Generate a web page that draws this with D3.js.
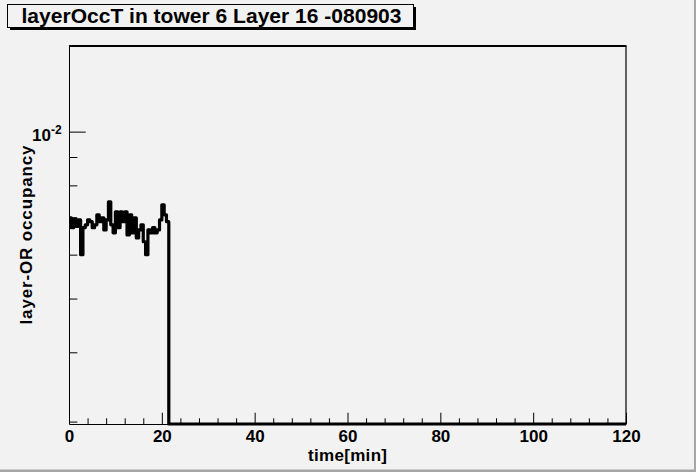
<!DOCTYPE html>
<html>
<head>
<meta charset="utf-8">
<script src="https://cdn.jsdelivr.net/npm/d3@7"></script>
<style>
  body { margin: 0; background: #f2f2f2; }
  svg { display: block; font-family: "Liberation Sans", Arial, sans-serif; font-weight: bold; }
</style>
</head>
<body>
<script>
// layer-OR occupancy per 0.5 min bin, from t = 0 up to 21.5 min (empty after that)
var binWidth = 0.5;
var occupancy = [
  6.99e-3, 6.71e-3, 6.96e-3, 6.75e-3, 6.93e-3, 6.00e-3, 6.71e-3, 6.79e-3,
  6.93e-3, 6.88e-3, 6.71e-3, 6.79e-3, 7.08e-3, 6.88e-3, 6.99e-3, 6.65e-3,
  6.93e-3, 7.47e-3, 6.79e-3, 6.57e-3, 7.17e-3, 6.71e-3, 7.17e-3, 6.88e-3,
  7.17e-3, 6.51e-3, 7.08e-3, 6.57e-3, 6.99e-3, 6.43e-3, 6.65e-3, 6.79e-3,
  6.33e-3, 6.00e-3, 6.65e-3, 6.57e-3, 6.71e-3, 6.57e-3, 6.65e-3, 6.93e-3,
  7.38e-3, 7.08e-3, 6.88e-3
];
var timeRange = [0, 120];
var occRange = [2.97e-3, 1.427e-2];
var xMajor = [0, 20, 40, 60, 80, 100, 120];
var xMinorStep = 4;
var yMajor = [1e-2];
var yMinor = [3e-3, 4e-3, 5e-3, 6e-3, 7e-3, 8e-3, 9e-3];

var W = 696, H = 472;
var frameL = 69, frameR = 626, frameT = 46, frameB = 424;

var svg = d3.select("body").append("svg")
    .attr("width", W)
    .attr("height", H);

svg.append("rect").attr("width", W).attr("height", H).attr("fill", "#f2f2f2");
// canvas bevel
svg.append("rect").attr("x", W - 2).attr("y", 0).attr("width", 2).attr("height", H).attr("fill", "#a6a6a6");
svg.append("rect").attr("x", 0).attr("y", H - 2.5).attr("width", W).attr("height", 2.5).attr("fill", "#a6a6a6");

var x = d3.scaleLinear().domain(timeRange).range([frameL, frameR]);
var y = d3.scaleLog().domain(occRange).range([frameB, frameT]).clamp(true);

// minor x ticks
var xMinor = d3.range(timeRange[0], timeRange[1] + 0.001, xMinorStep)
    .filter(function (d) { return xMajor.indexOf(d) < 0; });

var gxMinor = svg.append("g")
    .attr("transform", "translate(0," + frameB + ")")
    .call(d3.axisBottom(x).tickValues(xMinor).tickSize(-5.7).tickFormat(""));
gxMinor.select(".domain").remove();

var gx = svg.append("g")
    .attr("transform", "translate(0," + frameB + ")")
    .call(d3.axisBottom(x).tickValues(xMajor).tickSize(-11.3).tickPadding(5.5).tickSizeOuter(0));
gx.selectAll("text")
    .attr("font-size", 17)
    .attr("font-family", "Liberation Sans, Arial, sans-serif")
    .attr("font-weight", "bold")
    .attr("fill", "#000");

var gyMinor = svg.append("g")
    .attr("transform", "translate(" + frameL + ",0)")
    .call(d3.axisLeft(y).tickValues(yMinor).tickSize(-8.4).tickFormat(""));
gyMinor.select(".domain").remove();

var gy = svg.append("g")
    .attr("transform", "translate(" + frameL + ",0)")
    .call(d3.axisLeft(y).tickValues(yMajor).tickSize(-16.7).tickSizeOuter(0).tickFormat(""));

svg.selectAll(".tick line").attr("stroke", "#000");
svg.selectAll(".domain").attr("stroke", "#000");

// exponent label for 1e-2
yMajor.forEach(function (v) {
  var t = svg.append("text")
      .attr("x", 32)
      .attr("y", y(v) + 9.5)
      .style("font-size", "17px");
  t.append("tspan").text("10");
  t.append("tspan").style("font-size", "12px").attr("dy", -7).text(Math.round(Math.log10(v)));
});

// frame
svg.append("line").attr("x1", frameL).attr("x2", frameR + 0.5).attr("y1", frameT).attr("y2", frameT)
    .attr("stroke", "#000").attr("stroke-width", 2);
svg.append("line").attr("x1", frameR).attr("x2", frameR).attr("y1", frameT).attr("y2", frameB)
    .attr("stroke", "#000").attr("stroke-width", 1.2);

// histogram outline
var bins = occupancy.map(function (v, i) { return { x0: i * binWidth, x1: (i + 1) * binWidth, v: v }; });
bins.push({ x0: occupancy.length * binWidth, x1: timeRange[1], v: 0 });

var pts = [];
bins.forEach(function (b) {
  pts.push([x(b.x0), y(b.v)]);
  pts.push([x(b.x1), y(b.v)]);
});

svg.append("path")
    .attr("d", d3.line()(pts))
    .attr("fill", "none")
    .attr("stroke", "#000")
    .attr("stroke-width", 3.2)
    .attr("stroke-linejoin", "round");

// axis titles
svg.append("text")
    .attr("x", (frameL + frameR) / 2)
    .attr("y", 460.5)
    .attr("text-anchor", "middle")
    .style("font-size", "17px")
    .attr("textLength", 79)
    .text("time[min]");

svg.append("text")
    .attr("transform", "translate(32," + ((frameT + frameB) / 2) + ") rotate(-90)")
    .attr("text-anchor", "middle")
    .style("font-size", "17px")
    .attr("textLength", 179)
    .text("layer-OR occupancy");

// title box
svg.append("rect").attr("x", 10).attr("y", 27).attr("width", 406).attr("height", 3).attr("fill", "#000");
svg.append("rect").attr("x", 413).attr("y", 7).attr("width", 3).attr("height", 23).attr("fill", "#000");
svg.append("rect").attr("x", 7.5).attr("y", 4.5).attr("width", 406).attr("height", 23)
    .attr("fill", "#f2f2f2").attr("stroke", "#000").attr("stroke-width", 1);
svg.append("text")
    .attr("x", 211.5)
    .attr("y", 23)
    .attr("text-anchor", "middle")
    .style("font-size", "21px")
    .attr("textLength", 380)
    .text("layerOccT in tower 6 Layer 16 -080903");
</script>
</body>
</html>
